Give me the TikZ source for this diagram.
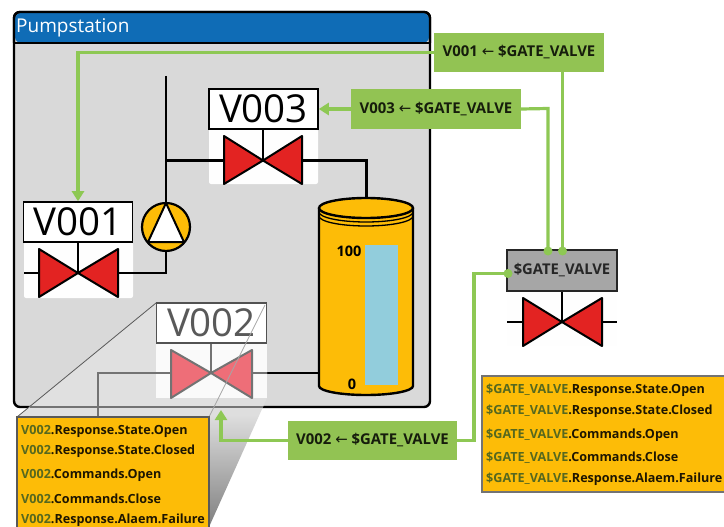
\documentclass[tikz,border=0pt]{standalone}
\usepackage{fontspec}
\setmainfont{Open Sans}
\newfontfamily\arrowfont{DejaVu Sans}
\usetikzlibrary{arrows.meta,shadings}
\definecolor{grn}{HTML}{92C353}
\definecolor{grnl}{HTML}{8EC854}
\definecolor{org}{HTML}{FDBC07}
\definecolor{hdr}{HTML}{0F6CB6}
\definecolor{pan}{HTML}{D9D9D9}
\definecolor{vred}{HTML}{E32322}
\definecolor{pre}{HTML}{56681F}
\definecolor{lblue}{HTML}{92CDDC}
\definecolor{pink}{HTML}{EE6E78}
\tikzset{
  x=1pt,y=-1pt,
  pipe/.style={line width=2.2pt,black},
  gpipe/.style={line width=2.2pt,black!55},
  link/.style={line width=3.2pt,grnl},
  linkarrow/.style={link,-{Triangle[width=12pt,length=10pt]}},
  bind/.style={draw=none,fill=grn,minimum width=170pt,minimum height=39.5pt,inner sep=0pt,font=\fontsize{14.9}{17}\selectfont\bfseries,text=black!85!grn},
  tag/.style={draw=black,line width=1.6pt,fill=white,minimum width=109pt,minimum height=40pt,inner sep=0pt,font=\fontsize{38.5}{42}\selectfont},
  vbg/.style={fill=white!97!pan,draw=none,rounded corners=2pt},
  vtri/.style={fill=vred,draw=black,line width=2pt,line join=round},
  ln/.style={anchor=west,inner sep=0pt,font=\fontsize{12.6}{14}\selectfont\bfseries,text=black!88!org},
  dot/.style={circle,fill=grnl,draw=none,minimum size=9pt,inner sep=0pt}
}
\newcommand{\Arr}{{\arrowfont\mdseries ←}}
\newcommand{\Pre}[1]{\textcolor{pre}{#1}}
\begin{document}
\begin{tikzpicture}
\useasboundingbox (0,0) rectangle (724,527);
\clip (0,0) rectangle (724,527);
% panel
\path[fill=pan,draw=black,line width=2.4pt,rounded corners=6pt] (14,12) rectangle (430,407);
\path[fill=hdr,rounded corners=6pt] (15,13) -- (429,13) -- (429,43) -- (15,43) -- cycle;
\draw[line width=2.4pt,black] (14,43) -- (430,43);
\draw[line width=2.4pt,black,rounded corners=6pt] (14,43) -- (14,12) -- (430,12) -- (430,43);
\node[anchor=west,inner sep=0pt,text=white,font=\fontsize{19}{22}\selectfont] (title) at (16,27.5) {Pumpstation};
% V001
\fill[vbg] (24,242) rectangle (133,298);
\coordinate (v1c) at (78,273);
\coordinate (v1l) at (24,273);
\coordinate (v1r) at (118,273);
\coordinate (pumpin) at (166,273);
\draw[pipe] (v1l) -- (39,273);
\draw[pipe] (v1r) -- (pumpin) -- (166,250);
\draw[pipe] (v1c) -- (78,242);
\draw[vtri] (39,249) -- (39,297) -- (78,273) -- cycle;
\draw[vtri] (118,249) -- (118,297) -- (78,273) -- cycle;
\node[tag] (V001) at (78,222) {V001};
% pipe top + pump
\coordinate (ptop) at (166,76);
\coordinate (pbr) at (166,160.5);
\draw[pipe] (ptop) -- (166,202);
\node[circle,draw=black,line width=2.2pt,fill=org,minimum size=48pt,inner sep=0pt] (pump) at (166,227) {};
\draw[fill=white,draw=black,line width=2pt,line join=round] (166,203) -- (148,242) -- (184,242) -- cycle;
% V003
\fill[vbg] (209,129) rectangle (318,184);
\coordinate (v3c) at (263,160.5);
\coordinate (v3r) at (302,160.5);
\coordinate (v3l) at (224,160.5);
\coordinate (tanktop) at (366.5,199);
\draw[pipe] (pbr) -- (v3l);
\draw[pipe] (v3r) -- (366.5,160.5) -- (tanktop);
\draw[pipe] (v3c) -- (263,129);
\draw[vtri] (224,136) -- (224,184) -- (263,160.5) -- cycle;
\draw[vtri] (302,136) -- (302,184) -- (263,160.5) -- cycle;
\node[tag] (V003) at (263.5,109) {V003};
% pipe V002 to tank
\coordinate (v2r) at (252,372.7);
\coordinate (tankl) at (319,372.7);
\draw[pipe] (v2r) -- (tankl);
% tank
\draw[fill=org,draw=black,line width=2.4pt] (319,208) -- (319,386) arc[start angle=180,end angle=0,x radius=47,y radius=9] -- (413,208);
\draw[fill=org,draw=black,line width=2.4pt] (366,208) ellipse[x radius=47,y radius=10];
\draw[line width=1.3pt,black] (319,212) arc[start angle=180,end angle=0,x radius=47,y radius=10];
\draw[line width=1.3pt,black] (319,216) arc[start angle=180,end angle=0,x radius=47,y radius=10];
\fill[lblue] (365,245) rectangle (398,385);
\node[inner sep=0pt,font=\fontsize{14.5}{16}\selectfont\bfseries] (t100) at (349,251) {100};
\node[inner sep=0pt,font=\fontsize{14.5}{16}\selectfont\bfseries] (t0) at (352,384) {0};
% magnifier faces
\shade[top color=pan!90!white,bottom color=black!50,middle color=black!13] (267,303) -- (267,398) -- (209,527) -- (209,417) -- cycle;
\fill[black!12] (156,303) -- (267,303) -- (209,417) -- (17,417) -- cycle;
\draw[black!65,line width=.8pt] (156,303) -- (17,417);
\draw[black!55,line width=2pt] (30,407.3) -- (263,407.3);
% V002
\fill[white!88!pan] (156,343) rectangle (267,398);
\coordinate (v2c) at (211,373);
\coordinate (v2l) at (171,373);
\coordinate (pl) at (98,373);
\draw[gpipe] (v2l) -- (pl) -- (98,417);
\draw[gpipe] (v2r) -- (267,372.7);
\draw[gpipe] (v2c) -- (211,343);
\draw[fill=pink,draw=black!55,line width=2pt,line join=round] (171,350) -- (171,398) -- (211,373) -- cycle;
\draw[fill=pink,draw=black!55,line width=2pt,line join=round] (252,350) -- (252,398) -- (211,373) -- cycle;
\node[tag,draw=black!68,text=black!65,minimum width=110pt] (V002) at (211.5,323) {V002};
\draw[black!35,line width=.8pt] (265,305) -- (209,417);
% zoomed list
\draw[fill=org,draw=black!65,line width=1.6pt] (17,417) rectangle (209,535);
\node[ln] (a1) at (21,431) {\Pre{V002}.Response.State.Open};
\node[ln] (a2) at (21,451) {\Pre{V002}.Response.State.Closed};
\node[ln] (a3) at (21,475) {\Pre{V002}.Commands.Open};
\node[ln] (a4) at (21,499) {\Pre{V002}.Commands.Close};
\node[ln] (a5) at (21,520) {\Pre{V002}.Response.Alaem.Failure};
% type
\fill[white!97!pan] (507,291) rectangle (617,346);
\coordinate (gc) at (562,322);
\draw[pipe] (507,322) -- (523,322);
\draw[pipe] (602,322) -- (617,322);
\draw[pipe] (gc) -- (562,291);
\draw[vtri] (523,298) -- (523,346) -- (562,322) -- cycle;
\draw[vtri] (602,298) -- (602,346) -- (562,322) -- cycle;
\node[draw=black!85,line width=1.6pt,fill=black!35,minimum width=110pt,minimum height=40.5pt,inner sep=0pt,font=\fontsize{14.8}{17}\selectfont\bfseries,text=black!85] (gate) at (562,270.5) {\$GATE\_VALVE};
\draw[fill=org,draw=black!55,line width=1.3pt] (482,376) rectangle (730,492);
\node[ln] (b1) at (486,390) {\Pre{\$GATE\_VALVE}.Response.State.Open};
\node[ln] (b2) at (486,411) {\Pre{\$GATE\_VALVE}.Response.State.Closed};
\node[ln] (b3) at (486,435) {\Pre{\$GATE\_VALVE}.Commands.Open};
\node[ln] (b4) at (486,458) {\Pre{\$GATE\_VALVE}.Commands.Close};
\node[ln] (b5) at (486,479) {\Pre{\$GATE\_VALVE}.Response.Alaem.Failure};
% bindings
\node[bind] (B1) at (519,52.5) {V001 \Arr\ \$GATE\_VALVE};
\node[bind] (B3) at (436,109) {V003 \Arr\ \$GATE\_VALVE};
\node[bind,minimum width=169pt] (B2) at (372.5,440.5) {V002 \Arr\ \$GATE\_VALVE};
\node[dot] (d1) at (548,251) {};
\node[dot] (d2) at (562.5,251) {};
\node[dot] (d3) at (508,273.5) {};
\draw[linkarrow] (B1.west) -- (78,52.5) -- (V001.north);
\draw[link] (B1.south -| d2) -- (d2.center);
\draw[linkarrow] (B3.west) -- (V003.east);
\draw[link] (B3.east) -- (548,108.5) -- (d1.center);
\draw[linkarrow] (B2.west) -- (221,440.5) -- (221,410);
\draw[link] (B2.east) -- (474,440.5) -- (474,273.5) -- (d3.center);
\end{tikzpicture}
\end{document}
